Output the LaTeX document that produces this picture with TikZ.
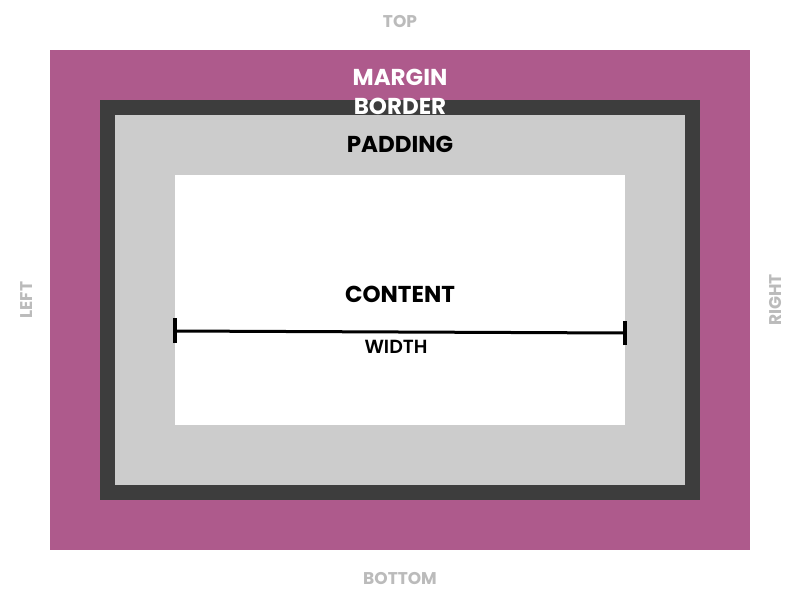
\documentclass[tikz,border=0pt]{standalone}
\usepackage{fontspec}
\setmainfont{Poppins}
\newfontfamily\semib{Poppins SemiBold}
\definecolor{marginc}{HTML}{AE5A8C}
\definecolor{borderc}{HTML}{3D3D3D}
\definecolor{paddingc}{HTML}{CCCCCC}
\definecolor{sidec}{HTML}{BBBBBB}
\begin{document}
\begin{tikzpicture}[x=1pt,y=-1pt,
  box/.style={draw=none,inner sep=0,outer sep=0,anchor=north west},
  side/.style={text=sidec,font=\bfseries\fontsize{17}{17}\selectfont,inner sep=0},
  lbl/.style={font=\bfseries\fontsize{23}{23}\selectfont,inner sep=0}]
\useasboundingbox[fill=white] (0,0) rectangle (800,600);
\node[box,fill=marginc,minimum width=700,minimum height=500] (margin) at (50,50) {};
\node[box,fill=borderc,minimum width=600,minimum height=400] (border) at (100,100) {};
\node[box,fill=paddingc,minimum width=570,minimum height=370] (padding) at (115,115) {};
\node[box,fill=white,minimum width=450,minimum height=250] (content) at (175,175) {};
\node[side] (top) at (400,22) {TOP};
\node[side] (bottom) at (400,578) {BOTTOM};
\node[side,rotate=90] (left) at (27,300) {LEFT};
\node[side,rotate=90] (right) at (775,300) {RIGHT};
\node[lbl,text=white] (tm) at (400,77) {MARGIN};
\node[lbl,text=white] (tb) at (400,106) {BORDER};
\node[lbl] (tp) at (400,144) {PADDING};
\node[lbl] (tc) at (400,294) {CONTENT};
\node[font=\semib\fontsize{19}{19}\selectfont,inner sep=0] (tw) at (396,347) {WIDTH};
\coordinate (wl) at (175,331);
\coordinate (wr) at (625,333);
\draw[line width=3pt] (wl) -- (wr);
\draw[line width=3.5pt] ([yshift=-12]wl) -- ([yshift=13]wl);
\draw[line width=3.5pt] ([yshift=-12]wr) -- ([yshift=12]wr);
\end{tikzpicture}
\end{document}
